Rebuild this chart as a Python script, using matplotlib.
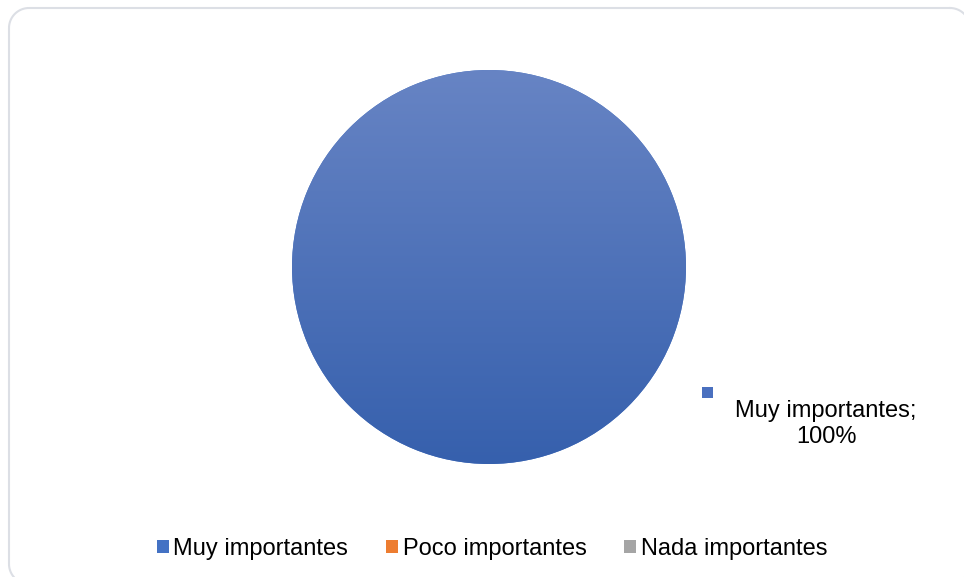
import numpy as np
import matplotlib.pyplot as plt
from matplotlib.patches import Patch, Rectangle
from matplotlib.colors import LinearSegmentedColormap

plt.rcParams['font.family'] = ['Liberation Sans', 'DejaVu Sans']

categories = ["Muy importantes", "Poco importantes", "Nada importantes"]
values = [100, 0, 0]
colors = ["#4472c4", "#ed7d31", "#a5a5a5"]

W, H = 964, 577


def rounded_rect(x0, y0, x1, y1, rad, n=20):
    """outline of a rounded rectangle, top-left pixel origin"""
    xs, ys = [], []
    corners = [(x1 - rad, y0 + rad, -90, 0), (x1 - rad, y1 - rad, 0, 90),
               (x0 + rad, y1 - rad, 90, 180), (x0 + rad, y0 + rad, 180, 270)]
    for cx, cy, a0, a1 in corners:
        t = np.radians(np.linspace(a0, a1, n))
        xs.extend(cx + rad * np.cos(t))
        ys.extend(cy + rad * np.sin(t))
    xs.append(xs[0])
    ys.append(ys[0])
    return np.array(xs), np.array(ys)


fig = plt.figure(figsize=(W / 100, H / 100), dpi=100)

# background axes in pixel units (top-left origin) for the frame and data label
bg = fig.add_axes([0, 0, 1, 1], zorder=-1)
bg.set_xlim(0, W)
bg.set_ylim(H, 0)
bg.axis("off")
fx, fy = rounded_rect(9, 8, 970, 584, 20)
bg.plot(fx, fy, color="#dcdfe5", lw=1.5)

# pie: centre (489, 267), radius 197 px
cx, cy, r = 489, 267, 197
ax = fig.add_axes([(cx - r) / W, (H - cy - r) / H, 2 * r / W, 2 * r / H])
wedges, _ = ax.pie(values, colors=colors, radius=1, startangle=90,
                   counterclock=False, normalize=True)
ax.set_xlim(-1, 1)
ax.set_ylim(-1, 1)
ax.set_aspect("equal")
ax.axis("off")

# vertical shading like the office gradient fill
grad = LinearSegmentedColormap.from_list("g", ["#3660ad", "#6784c4"])
img = ax.imshow(np.linspace(0, 1, 256).reshape(-1, 1), cmap=grad,
                extent=[-1, 1, -1, 1], origin="lower", aspect="auto", zorder=2)
img.set_clip_path(wedges[0])

# data label
bg.add_patch(Rectangle((702, 387), 11, 11, facecolor="#4a70bf", edgecolor="none"))
bg.text(826, 424, f"{categories[0]};\n{values[0]}%", ha="center", va="center",
        multialignment="center", fontsize=17, linespacing=1.28)

# legend
handles = [Patch(facecolor=c, edgecolor="none") for c in colors]
fig.legend(handles, categories, loc="center", bbox_to_anchor=(492 / W, 1 - 549 / H),
           ncol=3, frameon=False, fontsize=17, handlelength=0.5, handleheight=0.5,
           handletextpad=0.2, columnspacing=1.6, borderaxespad=0)

fig.savefig("out.png", dpi=100)
